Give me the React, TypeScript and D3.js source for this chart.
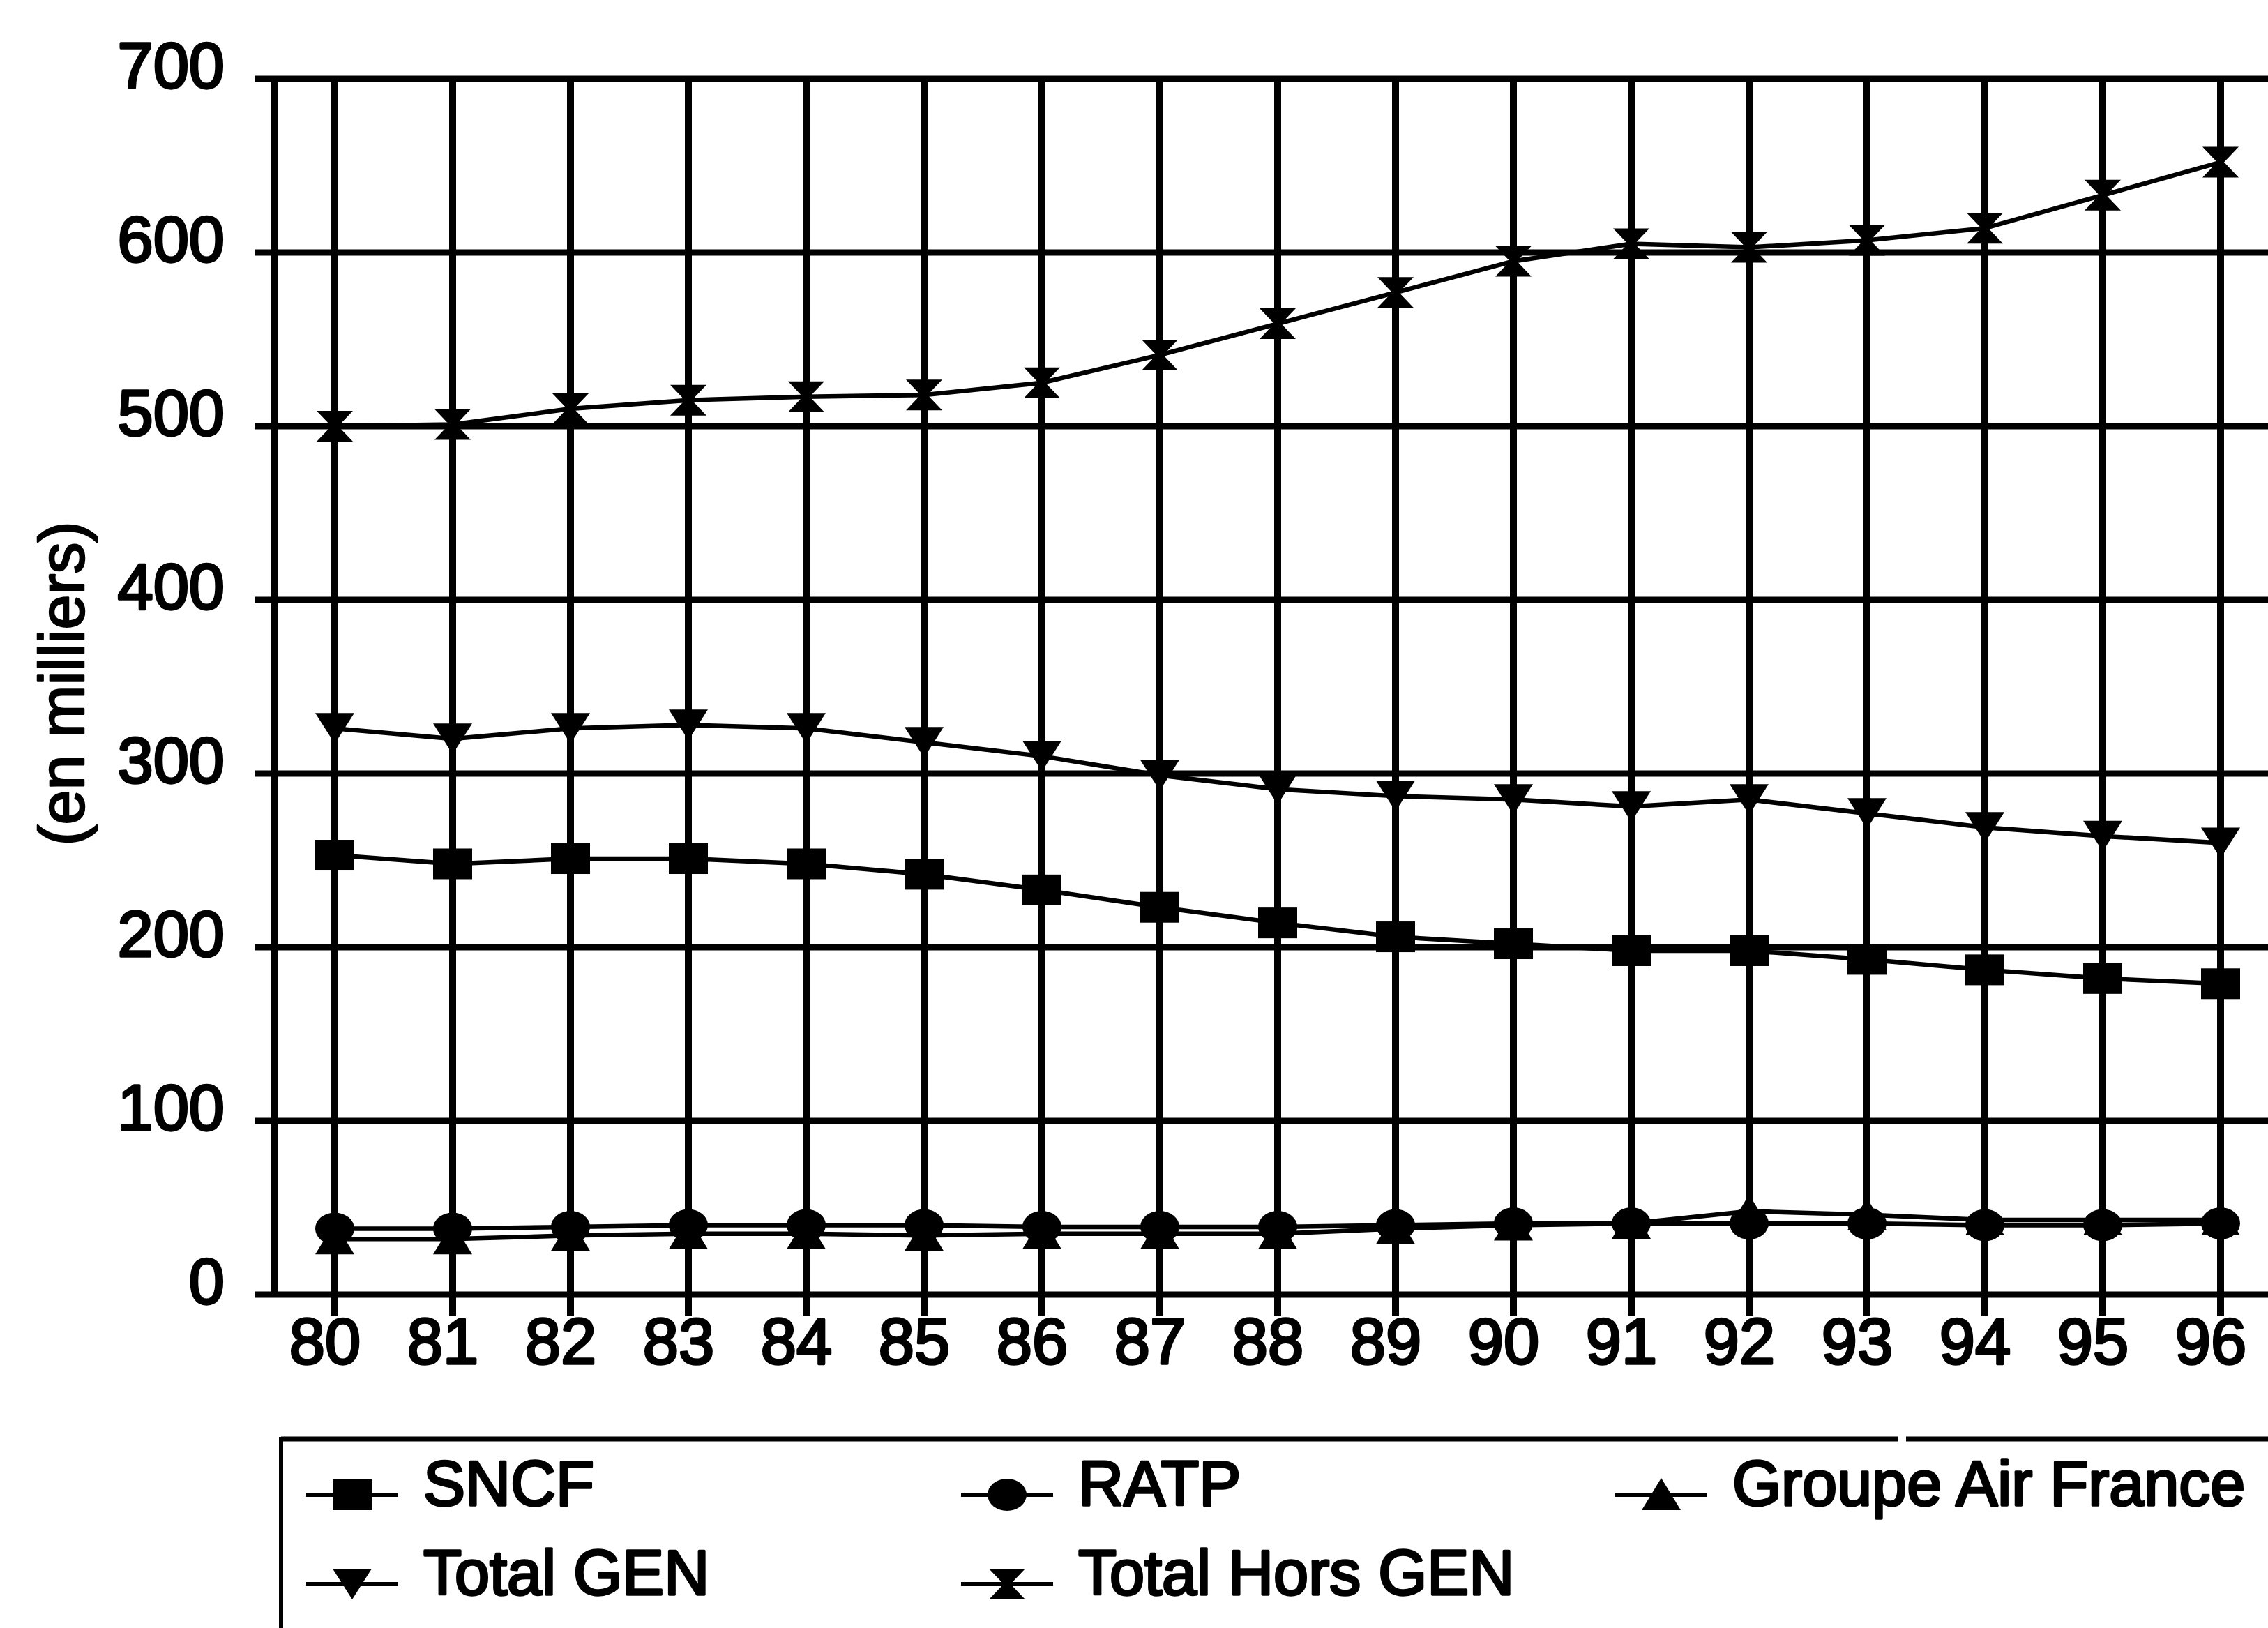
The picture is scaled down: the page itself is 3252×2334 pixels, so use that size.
import React from "react";
import * as d3 from "d3";

const years = ["80","81","82","83","84","85","86","87","88","89","90","91","92","93","94","95","96"];
const sncf = [253,248,251,251,248,242,233,223,214,206,202,198,198,193,187,182,179];
const ratp = [38,38,39,40,40,40,39,39,39,40,41,41,41,41,40,40,41];
const airFrance = [32,32,34,35,35,34,35,35,35,38,40,41,48,46,43,43,43];
const totalGen = [326,320,326,328,326,318,310,299,291,287,285,281,285,277,269,264,260];
const totalHorsGen = [500,501,510,515,517,518,525,541,559,577,595,605,603,607,614,633,652];
const yTicks = [0,100,200,300,400,500,600,700];

const W = 3252, H = 2334;
const FONT = "'Liberation Sans', Arial, sans-serif";

type Shape = "square" | "circle" | "triUp" | "triDown" | "hourglass";

const series: { name: string; values: number[]; shape: Shape }[] = [
  { name: "SNCF", values: sncf, shape: "square" },
  { name: "RATP", values: ratp, shape: "circle" },
  { name: "Groupe Air France", values: airFrance, shape: "triUp" },
  { name: "Total GEN", values: totalGen, shape: "triDown" },
  { name: "Total Hors GEN", values: totalHorsGen, shape: "hourglass" },
];

function Marker({ shape, x, y }: { shape: Shape; x: number; y: number }) {
  const w = 28, h = 22;
  if (shape === "square") return <rect x={x - w} y={y - h} width={2 * w} height={2 * h} fill="#000" />;
  if (shape === "circle") return <ellipse cx={x} cy={y} rx={w} ry={h + 1} fill="#000" />;
  let d = "";
  if (shape === "triUp") d = `M${x},${y - h - 2}L${x + w},${y + h}L${x - w},${y + h}Z`;
  if (shape === "triDown") d = `M${x - w},${y - h}L${x + w},${y - h}L${x},${y + h}Z`;
  if (shape === "hourglass")
    d = `M${x - w + 2},${y - h}L${x + w - 2},${y - h}L${x + 5},${y}L${x + w - 2},${y + h}L${x - w + 2},${y + h}L${x - 5},${y}Z`;
  return <path d={d} fill="#000" />;
}

export default function App() {
  const x = d3.scalePoint<string>().domain(years).range([480, 3184]);
  const y = d3.scaleLinear().domain([0, 700]).range([1856, 113]);
  const line = d3.line<number>().x((_, i) => x(years[i]) as number).y((v) => y(v));

  const axisX = 394;
  const legend = [
    { s: series[0], lx: 439, ty: 2143 },
    { s: series[1], lx: 1378, ty: 2143 },
    { s: series[2], lx: 2316, ty: 2143 },
    { s: series[3], lx: 439, ty: 2271 },
    { s: series[4], lx: 1378, ty: 2271 },
  ];

  const textStyle = { fontFamily: FONT, fill: "#000", stroke: "#000", strokeWidth: 3.5, strokeLinejoin: "round" as const };

  return (
    <svg width={W} height={H} style={{ position: "absolute", left: 0, top: 0, background: "#fff" }}>
      <rect x={0} y={0} width={W} height={H} fill="#fff" />
      {yTicks.map((t) => (
        <line key={"h" + t} x1={365} x2={W + 10} y1={y(t)} y2={y(t)} stroke="#000" strokeWidth={9} />
      ))}
      {years.map((yr) => (
        <line key={"v" + yr} x1={x(yr)} x2={x(yr)} y1={y(700)} y2={1887} stroke="#000" strokeWidth={10} />
      ))}
      <line x1={axisX} x2={axisX} y1={y(700) - 4} y2={y(0) + 4} stroke="#000" strokeWidth={10} />

      {yTicks.map((t) => (
        <text key={"yl" + t} x={322} y={y(t) + 13} textAnchor="end" fontSize={92} style={textStyle}>
          {t}
        </text>
      ))}
      {years.map((yr) => (
        <text key={"xl" + yr} x={(x(yr) as number) - 14} y={1955} textAnchor="middle" fontSize={92} style={textStyle}>
          {yr}
        </text>
      ))}
      <text transform="translate(120,980) rotate(-90)" textAnchor="middle" fontSize={90} style={{ ...textStyle, strokeWidth: 2.5 }}>
        (en milliers)
      </text>

      {series.map((s) => (
        <g key={s.name}>
          <path d={line(s.values) || ""} fill="none" stroke="#000" strokeWidth={6.5} />
          {s.values.map((v, i) => (
            <Marker key={i} shape={s.shape} x={x(years[i]) as number} y={y(v)} />
          ))}
        </g>
      ))}

      <line x1={403} x2={2722} y1={2063} y2={2063} stroke="#000" strokeWidth={7} />
      <line x1={2733} x2={W + 10} y1={2063} y2={2063} stroke="#000" strokeWidth={7} />
      <line x1={403} x2={403} y1={2060} y2={H + 10} stroke="#000" strokeWidth={6} />
      {legend.map(({ s, lx, ty }) => (
        <g key={"lg" + s.name}>
          <line x1={lx} x2={lx + 132} y1={ty} y2={ty} stroke="#000" strokeWidth={6} />
          <Marker shape={s.shape} x={lx + 66} y={ty} />
          <text x={lx + 168} y={ty + 15} fontSize={90} style={textStyle}>
            {s.name}
          </text>
        </g>
      ))}
    </svg>
  );
}
